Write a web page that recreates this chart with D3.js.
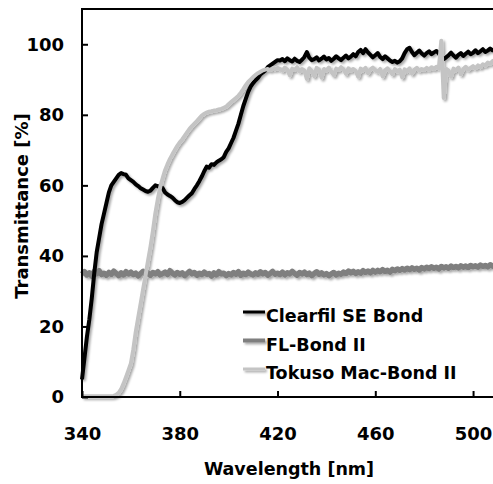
<!DOCTYPE html>
<html>
<head>
<meta charset="utf-8">
<script src="https://cdn.jsdelivr.net/npm/d3@7"></script>
<style>
  html, body { margin: 0; padding: 0; background: #fff; overflow: hidden; }
  text { font-family: "DejaVu Sans", Verdana, sans-serif; font-weight: bold; fill: #000; }
</style>
</head>
<body>
<svg id="chart" width="493" height="484"></svg>
<script>
// ---- data ----
const wavelengths = [
  340,341,342,343,344,345,346,347,348,349,
  350,351,352,353,354,355,356,357,358,359,
  360,361,362,363,364,365,366,367,368,369,
  370,371,372,373,374,375,376,377,378,379,
  380,381,382,383,384,385,386,387,388,389,
  390,391,392,393,394,395,396,397,398,399,
  400,401,402,403,404,405,406,407,408,409,
  410,411,412,413,414,415,416,417,418,419,
  420,421,422,423,424,425,426,427,428,429,
  430,431,432,433,434,435,436,437,438,439,
  440,441,442,443,444,445,446,447,448,449,
  450,451,452,453,454,455,456,457,458,459,
  460,461,462,463,464,465,466,467,468,469,
  470,471,472,473,474,475,476,477,478,479,
  480,481,482,483,484,485,486,487,488,489,
  490,491,492,493,494,495,496,497,498,499,
  500,501,502,503,504,505,506,507,508,509,
  510
];

const clearfilSE = [
  5,11,17,22,28,35,41,45,49,52,
  55,58,60,61,62,63,63.5,63.2,63,62,
  61.5,61,60.3,59.8,59.2,58.8,58.4,58.2,58.5,59.3,
  60,59.8,59.5,59.2,58,57.4,57,56.5,55.8,55.2,
  55,55.3,55.8,56.5,57.2,57.8,59,60,61.2,62.5,
  64,65.3,65,66,65.8,66.5,67,67.4,68,69.5,
  70.5,72,73.5,75.5,77.5,80,82.5,84.5,86.5,88,
  89,89.8,90.5,91.5,92,92.6,93.5,94,94.5,95,
  95.5,95.4,95.8,95.2,96.0,95.5,95.1,95.9,95.3,95.0,
  95.6,96.4,97.8,96.2,95.5,95.8,96.3,95.4,95.9,96.5,
  95.7,96.1,95.3,95.9,96.6,96.0,95.5,96.2,96.8,96.0,
  96.5,97.2,96.6,97.8,98.4,97.5,98.6,97.7,97.0,96.3,
  96.9,97.5,96.4,95.8,96.6,96.0,95.4,95.0,95.3,94.8,
  95.2,96.0,97.5,98.6,99.0,97.8,96.9,97.6,98.2,97.4,
  96.8,97.5,98.0,97.2,97.7,98.1,97.4,96.5,95.8,96.3,
  96.9,97.6,96.8,96.2,97.0,97.5,96.7,97.3,97.9,97.2,
  97.6,98.3,97.5,98.0,98.6,97.8,98.2,98.8,98.3,98.6,
  99.0
];

const flBondII = [
  34.8,35.5,34.6,35.2,34.3,35.6,34.9,35.8,34.7,35.1,
  34.5,35.3,34.8,35.7,35.0,34.4,35.2,34.6,35.5,34.9,
  35.4,34.7,35.1,34.3,35.0,35.6,34.8,35.2,34.5,35.3,
  34.9,35.5,34.6,35.0,35.4,34.7,35.8,35.1,34.6,35.3,
  34.8,35.2,34.4,35.0,35.6,34.9,35.3,34.5,35.1,34.7,
  35.4,34.8,35.0,34.3,35.2,34.6,35.5,34.9,35.1,34.4,
  35.0,34.6,35.3,34.8,35.5,34.5,35.1,34.7,35.4,34.9,
  34.6,35.2,34.8,35.5,34.9,35.3,34.5,35.0,35.6,34.8,
  35.1,34.7,35.4,34.6,35.2,34.9,35.6,35.0,34.5,35.3,
  34.9,35.4,34.7,35.1,34.4,35.0,35.5,34.8,35.2,34.6,
  35.0,34.4,34.9,35.3,34.6,35.1,34.8,35.4,35.0,35.7,
  35.2,35.6,35.0,35.5,35.1,35.8,35.3,35.7,35.2,35.9,
  35.4,35.9,35.5,36.1,35.6,35.9,35.4,36.2,35.8,36.3,
  35.9,36.4,36.0,36.5,36.1,36.6,36.2,36.5,36.0,36.7,
  36.3,36.8,36.4,36.9,36.5,36.8,36.3,37.0,36.6,36.9,
  36.5,37.1,36.7,37.0,36.6,37.2,36.8,37.1,36.7,37.3,
  36.9,37.2,36.8,37.4,37.0,37.3,36.9,37.5,37.1,37.4,
  37.2
];

const tokusoMacBondII = [
  0.2,0.2,0.2,0.2,0.2,0.2,0.2,0.2,0.2,0.2,
  0.2,0.2,0.2,0.3,0.6,1.2,2.2,3.8,5.6,7.5,
  9.5,13.5,18.5,22.5,26.5,30.5,34.5,38.5,42.5,47.0,
  52.0,56.0,59.5,62.0,64.3,66.0,67.5,68.8,70.0,71.2,
  72.2,73.0,74.0,75.0,76.0,76.8,77.5,78.2,79.0,79.8,
  80.3,80.6,80.9,81.0,81.2,81.3,81.5,81.7,82.0,82.3,
  83.0,83.6,84.2,84.8,85.4,86.3,87.3,88.4,89.3,90.0,
  90.7,91.3,91.8,92.2,92.6,92.8,93.0,92.7,93.2,92.9,
  93.3,93.0,92.5,93.4,92.8,91.2,93.1,92.7,93.5,92.3,
  93.0,92.6,90.2,93.2,92.4,91.0,93.3,92.8,90.5,93.0,
  92.6,93.4,92.2,91.3,93.1,92.7,93.5,92.9,91.6,93.2,
  92.5,93.0,92.4,90.8,93.1,92.6,93.3,91.8,92.9,93.4,
  92.7,92.2,93.0,90.9,92.6,93.2,92.4,91.5,93.0,92.3,
  92.8,90.6,92.9,92.4,93.2,91.7,92.8,93.3,92.5,93.0,
  92.7,93.3,92.8,93.5,93.0,93.6,93.2,101.0,84.8,93.0,
  92.5,90.8,93.1,92.6,93.4,91.5,93.0,93.6,92.8,93.3,
  93.8,93.2,94.0,93.5,94.3,94.0,94.8,94.5,95.2,95.5,
  96.0
];

const xTicks = [340, 380, 420, 460, 500];
const yTicks = [0, 20, 40, 60, 80, 100];
const seriesNames = ["Clearfil SE Bond", "FL-Bond II", "Tokuso Mac-Bond II"];
const seriesColors = ["#000000", "#7f7f7f", "#c4c4c4"];

// ---- layout ----
const svg = d3.select("#chart");
const mLeft = 82, mTop = 9, mBottom = 397, mRight = 497.5;

const x = d3.scaleLinear().domain([340, 510]).range([mLeft, mRight]);
const y = d3.scaleLinear().domain([0, 110]).range([mBottom, mTop]);

const defs = svg.append("defs");
const f = defs.append("filter").attr("id", "shadow")
  .attr("filterUnits", "userSpaceOnUse")
  .attr("x", 0).attr("y", 0).attr("width", 520).attr("height", 500);
f.append("feDropShadow").attr("dx", 1.8).attr("dy", 1.8)
  .attr("stdDeviation", 1.2).attr("flood-color", "#000").attr("flood-opacity", 0.35);

// ---- series ----
const line = d3.line()
  .x((d, i) => x(wavelengths[i]))
  .y(d => y(d));

const plot = svg.append("g").attr("filter", "url(#shadow)");
const drawOrder = [
  { values: flBondII, color: seriesColors[1], width: 5.5 },
  { values: clearfilSE, color: seriesColors[0], width: 4 },
  { values: tokusoMacBondII, color: seriesColors[2], width: 4 }
];
drawOrder.forEach(s => {
  plot.append("path")
    .datum(s.values)
    .attr("fill", "none")
    .attr("stroke", s.color)
    .attr("stroke-width", s.width)
    .attr("stroke-linejoin", "round")
    .attr("d", line);
});

// ---- frame & axes ----
svg.append("rect")
  .attr("x", mLeft).attr("y", mTop)
  .attr("width", mRight - mLeft).attr("height", mBottom - mTop)
  .attr("fill", "none").attr("stroke", "#000").attr("stroke-width", 2);

const yAxis = svg.append("g")
  .attr("transform", `translate(${mLeft},0)`)
  .call(d3.axisLeft(y).tickValues(yTicks).tickSizeInner(-6).tickSizeOuter(0).tickPadding(18));
const xAxis = svg.append("g")
  .attr("transform", `translate(0,${mBottom})`)
  .call(d3.axisBottom(x).tickValues(xTicks).tickSizeInner(-6).tickSizeOuter(0).tickPadding(30));

[xAxis, yAxis].forEach(a => {
  a.select(".domain").remove();
  a.selectAll(".tick line").attr("stroke", "#000").attr("stroke-width", 2);
  a.selectAll(".tick text")
    .attr("font-family", "DejaVu Sans, Verdana, sans-serif")
    .attr("font-weight", "bold")
    .attr("font-size", 18)
    .attr("fill", "#000");
});

// ---- axis titles ----
svg.append("text")
  .attr("transform", "translate(28,206) rotate(-90)")
  .attr("text-anchor", "middle")
  .attr("font-size", 18)
  .text("Transmittance [%]");

svg.append("text")
  .attr("x", 289).attr("y", 475)
  .attr("text-anchor", "middle")
  .attr("font-size", 17.5)
  .text("Wavelength [nm]");

// ---- legend ----
const legendY = [312, 340.5, 369];
const legendW = [3, 4, 3];
const lg = svg.append("g");
seriesNames.forEach((name, i) => {
  lg.append("line")
    .attr("x1", 243).attr("x2", 265)
    .attr("y1", legendY[i]).attr("y2", legendY[i])
    .attr("stroke", seriesColors[i]).attr("stroke-width", legendW[i])
    .attr("filter", "url(#shadow)");
  lg.append("text")
    .attr("x", 266).attr("y", legendY[i] + 10)
    .attr("font-size", 17.5)
    .text(name);
});
</script>
</body>
</html>
